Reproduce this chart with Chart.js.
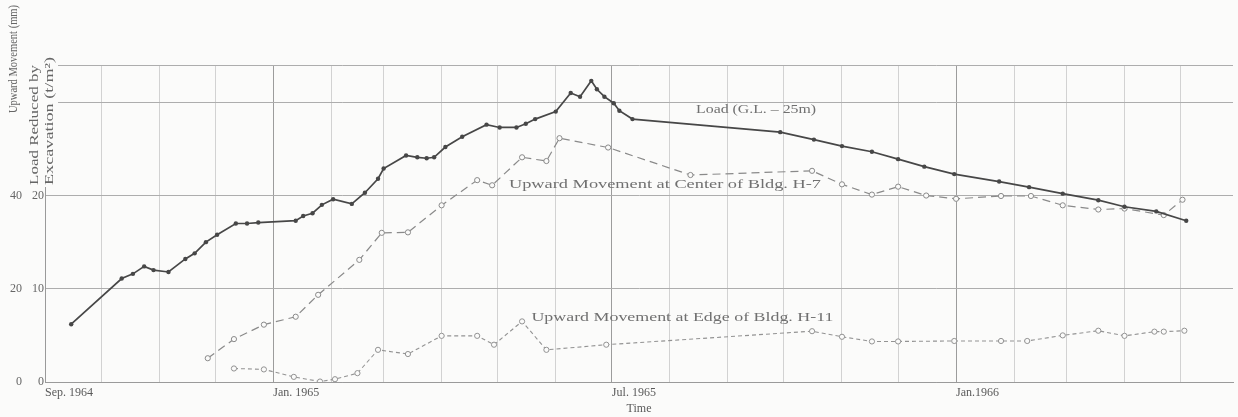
<!DOCTYPE html>
<html>
<head>
<meta charset="utf-8">
<script src="https://cdn.jsdelivr.net/npm/chart.js@4.4.0/dist/chart.umd.min.js"></script>
<style>
  html, body { margin: 0; padding: 0; background: #fbfbfa; }
</style>
</head>
<body>
<canvas id="upliftChart" width="1238" height="417"></canvas>
<script>
// x values are days counted from 1 Sep 1964
const loadDays = [14, 41, 47, 53, 58, 66, 75, 80, 86, 92, 102, 108, 114, 134, 138, 143, 148, 154, 164, 171, 178, 181,
  193, 199, 204, 208, 214, 223, 236, 243, 252, 257, 262, 273, 281, 286, 292, 295, 299, 304, 307, 314,
  393, 411, 426, 442, 456, 470, 486, 510, 526, 544, 563, 577, 594, 610];
const loadValues = [6.2, 11.1, 11.6, 12.4, 12.0, 11.8, 13.2, 13.8, 15.0, 15.8, 17.0, 17.0, 17.1, 17.3, 17.8, 18.1, 19.0, 19.6, 19.1, 20.3, 21.8, 22.9,
  24.3, 24.1, 24.0, 24.1, 25.2, 26.3, 27.6, 27.3, 27.3, 27.7, 28.2, 29.0, 31.0, 30.6, 32.3, 31.4, 30.6, 29.9, 29.1, 28.2,
  26.8, 26.0, 25.3, 24.7, 23.9, 23.1, 22.3, 21.5, 20.9, 20.2, 19.5, 18.8, 18.3, 17.3];

const centerDays = [87, 101, 117, 134, 146, 168, 180, 194, 212, 231, 239, 255, 268, 275, 301, 345,
  410, 426, 442, 456, 471, 487, 511, 527, 544, 563, 577, 598, 608];
const centerValues = [5.1, 9.2, 12.3, 14.0, 18.7, 26.2, 32.0, 32.1, 37.9, 43.3, 42.2, 48.2, 47.4, 52.3, 50.3, 44.4,
  45.3, 42.4, 40.2, 41.9, 40.0, 39.3, 39.9, 39.9, 37.9, 37.0, 37.2, 35.8, 39.1];

const edgeDays = [101, 117, 133, 147, 155, 167, 178, 194, 212, 231, 240, 255, 268, 300,
  410, 426, 442, 456, 486, 511, 525, 544, 563, 577, 593, 598, 609];
const edgeValues = [2.9, 2.7, 1.1, 0.1, 0.6, 1.9, 6.9, 6.0, 9.9, 9.9, 8.0, 13.0, 6.9, 8.0,
  10.9, 9.7, 8.7, 8.7, 8.8, 8.8, 8.8, 10.0, 11.0, 9.9, 10.8, 10.8, 11.0];

const xTickMonths = ['1964-09', '1965-01', '1965-07', '1966-01'];
const xTickLabels = ['Sep. 1964', 'Jan. 1965', 'Jul. 1965', 'Jan.1966'];
const loadTicks = [0, 10, 20, 30, 34];
const moveTicks = [0, 20, 40];

const curveNotes = [
  { text: 'Load (G.L. \u2013 25m)', day: 348, value: 29.25, axis: 'load', len: 120 },
  { text: 'Upward Movement at Center of Bldg. H-7', day: 248, value: 42.4, axis: 'move', len: 312 },
  { text: 'Upward Movement at Edge of Bldg. H-11', day: 260, value: 13.8, axis: 'move', len: 302 }
];

const start = Date.UTC(1964, 8, 1);
const dayOf = (ym) => {
  const [y, m] = ym.split('-').map(Number);
  return (Date.UTC(y, m - 1, 1) - start) / 864e5;
};
const monthStarts = [];
for (let m = 8; m <= 28; m++) monthStarts.push((Date.UTC(1964, m, 1) - start) / 864e5);
const labelDays = xTickMonths.map(dayOf);

const pts = (xs, ys) => xs.map((x, i) => ({ x, y: ys[i] }));

const BG = '#fbfbfa';
const SERIF = '"Liberation Serif", "DejaVu Serif", serif';

// text squeezed or stretched to a given length
function drawFitted(ctx, text, x, y, len, font, rotate) {
  ctx.save();
  ctx.font = font;
  const w = ctx.measureText(text).width;
  ctx.translate(x, y);
  if (rotate) ctx.rotate(-Math.PI / 2);
  ctx.scale(len / w, 1);
  ctx.fillText(text, 0, 0);
  ctx.restore();
}

const decorations = {
  id: 'decorations',
  beforeDraw(chart) {
    const ctx = chart.ctx;
    ctx.save();
    ctx.fillStyle = BG;
    ctx.fillRect(0, 0, chart.width, chart.height);
    ctx.restore();
  },
  afterDraw(chart) {
    const ctx = chart.ctx;
    ctx.save();
    // axis titles sit in the corner above the tick labels
    ctx.fillStyle = BG;
    ctx.fillRect(0, 0, 58, 187);
    ctx.fillStyle = '#666';
    ctx.textBaseline = 'middle';
    ctx.textAlign = 'center';
    drawFitted(ctx, 'Upward Movement (mm)', 14, 59, 108, '12px ' + SERIF, true);
    drawFitted(ctx, 'Load Reduced by', 35, 125, 120, '12px ' + SERIF, true);
    drawFitted(ctx, 'Excavation (t/m\u00b2)', 50, 121, 128, '12px ' + SERIF, true);

    ctx.fillStyle = '#707070';
    ctx.textAlign = 'left';
    const xs = chart.scales.x;
    curveNotes.forEach(n => {
      const px = xs.getPixelForValue(n.day);
      const py = chart.scales[n.axis].getPixelForValue(n.value);
      drawFitted(ctx, n.text, px, py, n.len, '13px ' + SERIF, false);
    });
    ctx.restore();
  }
};

new Chart(document.getElementById('upliftChart'), {
  type: 'line',
  data: {
    datasets: [
      {
        label: 'Load (G.L. - 25m)',
        data: pts(loadDays, loadValues),
        yAxisID: 'load',
        borderColor: '#474747',
        borderWidth: 1.7,
        pointRadius: 2.2,
        pointBackgroundColor: '#474747',
        pointBorderWidth: 0
      },
      {
        label: 'Upward Movement at Center of Bldg. H-7',
        data: pts(centerDays, centerValues),
        yAxisID: 'move',
        borderColor: '#8a8a8a',
        borderWidth: 1.2,
        borderDash: [8, 5],
        pointRadius: 2.6,
        pointBackgroundColor: BG,
        pointBorderColor: '#8a8a8a',
        pointBorderWidth: 1
      },
      {
        label: 'Upward Movement at Edge of Bldg. H-11',
        data: pts(edgeDays, edgeValues),
        yAxisID: 'move',
        borderColor: '#939393',
        borderWidth: 1.1,
        borderDash: [4, 3],
        pointRadius: 2.6,
        pointBackgroundColor: BG,
        pointBorderColor: '#939393',
        pointBorderWidth: 1
      }
    ]
  },
  options: {
    responsive: false,
    animation: false,
    devicePixelRatio: 1,
    layout: { padding: { top: 65, right: 1, left: 0, bottom: 0 } },
    plugins: {
      legend: { display: false },
      tooltip: { enabled: false }
    },
    scales: {
      x: {
        type: 'linear',
        min: 0,
        max: 635,
        afterBuildTicks: (scale) => { scale.ticks = monthStarts.map(v => ({ value: v })); },
        afterFit: (scale) => { scale.height = 35; },
        ticks: {
          autoSkip: false,
          maxRotation: 0,
          align: 'start',
          padding: 4,
          color: '#5a5a5a',
          font: { family: SERIF, size: 12 },
          callback: (v) => {
            const i = labelDays.indexOf(v);
            return i >= 0 ? xTickLabels[i] : '';
          }
        },
        grid: {
          drawTicks: false,
          color: (c) => labelDays.includes(c.tick && c.tick.value) ? '#9c9c9c' : '#d2d2d2',
          lineWidth: 1
        },
        border: { color: '#9a9a9a' },
        title: {
          display: true,
          text: 'Time',
          color: '#5a5a5a',
          font: { family: SERIF, size: 12 },
          padding: { top: 0, bottom: 1 }
        }
      },
      load: {
        position: 'left',
        weight: 0,
        min: 0,
        max: 34,
        afterBuildTicks: (scale) => { scale.ticks = loadTicks.map(v => ({ value: v })); },
        afterFit: (scale) => { scale.width = 16; },
        ticks: {
          padding: 1,
          color: '#666',
          font: { family: SERIF, size: 12 },
          callback: (v) => (v <= 20 ? v : '')
        },
        grid: { drawTicks: false, color: '#adadad', lineWidth: 1 },
        border: { color: '#9a9a9a' }
      },
      move: {
        position: 'left',
        weight: 1,
        min: 0,
        max: 68,
        afterBuildTicks: (scale) => { scale.ticks = moveTicks.map(v => ({ value: v })); },
        afterFit: (scale) => { scale.width = 29; },
        ticks: {
          padding: 7,
          color: '#666',
          font: { family: SERIF, size: 12 }
        },
        grid: { display: false, drawTicks: false },
        border: { display: false }
      }
    }
  },
  plugins: [decorations]
});
</script>
</body>
</html>
